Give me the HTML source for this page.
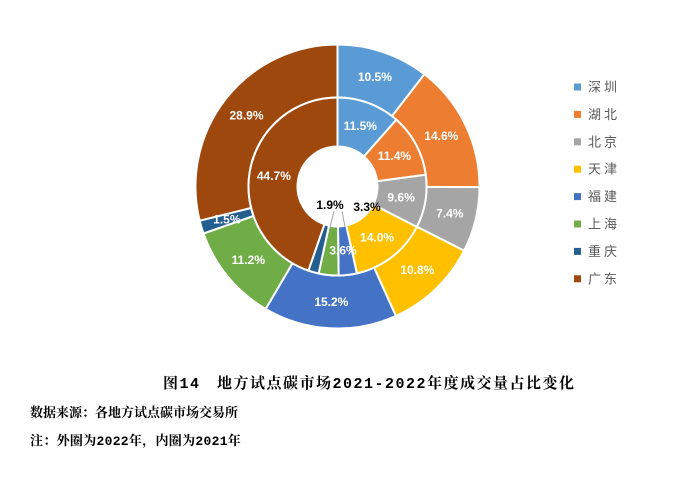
<!DOCTYPE html>
<html><head><meta charset="utf-8"><style>
body{margin:0;background:#fff;width:677px;height:478px;overflow:hidden;font-family:"Liberation Mono","Noto Serif CJK SC",serif}
.t{position:absolute;font-weight:bold;color:#000;white-space:nowrap}
</style></head><body>
<svg id="s" width="677" height="478" style="position:absolute;left:0;top:0" font-family="Liberation Sans, Noto Sans CJK SC, sans-serif"></svg>
<div class="t" style="left:163px;top:372px;font-size:15px;letter-spacing:1.5px">图14　地方试点碳市场2021-2022年度成交量占比变化</div>
<div class="t" style="left:30px;top:402px;font-size:13px;letter-spacing:0px">数据来源：各地方试点碳市场交易所</div>
<div class="t" style="left:30px;top:430px;font-size:13px;letter-spacing:0.3px">注：外圈为2022年，内圈为2021年</div>
<script>
const s=document.getElementById('s');
const cx=337.5,cy=186.5;
const cols=['#5B9BD5','#ED7D31','#A5A5A5','#FFC000','#4472C4','#70AD47','#255E91','#9E480E'];
const names=['深圳','湖北','北京','天津','福建','上海','重庆','广东'];
const outer=[10.5,14.6,7.4,10.8,15.2,11.2,1.5,28.9];
const inner=[11.5,11.4,9.6,14.0,3.3,3.6,1.9,44.7];
let h='';
function pt(r,a){return [cx+r*Math.sin(a),cy-r*Math.cos(a)];}
function ring(v,r0,r1,lbl){
 const tot=v.reduce((a,b)=>a+b,0);let a=0;
 v.forEach((x,i)=>{const a0=a/tot*2*Math.PI;a+=x;const a1=a/tot*2*Math.PI;
  const lg=(a1-a0)>Math.PI?1:0;
  const p1=pt(r1,a0),p2=pt(r1,a1),p3=pt(r0,a1),p4=pt(r0,a0);
  h+=`<path d="M${p1} A${r1},${r1} 0 ${lg} 1 ${p2} L${p3} A${r0},${r0} 0 ${lg} 0 ${p4}Z" fill="${cols[i]}" stroke="#fff" stroke-width="2"/>`;
 });
 a=0;
 v.forEach((x,i)=>{const a0=a/tot*2*Math.PI;a+=x;const a1=a/tot*2*Math.PI;
  if(lbl[i]!==null){const m=pt((r0+r1)/2,(a0+a1)/2);
   h+=`<text x="${m[0]+(lbl[i]||0)}" y="${m[1]+4}" text-anchor="middle" font-size="12" font-weight="bold" fill="#fff">${x.toFixed(1)}%</text>`;}
 });
}
ring(outer,89,142,[0,0,0,0,0,0,0,0]);
ring(inner,40,89,[0,0,0,0,null,12,null,0]);
h+=`<line x1="342" y1="211" x2="345" y2="227" stroke="#a6a6a6"/><line x1="334" y1="211" x2="330" y2="227" stroke="#a6a6a6"/>`;
h+=`<text x="330" y="209" text-anchor="middle" font-size="12" font-weight="bold" fill="#000">1.9%</text>`;
h+=`<text x="367" y="211" text-anchor="middle" font-size="12" font-weight="bold" fill="#000">3.3%</text>`;
names.forEach((n,i)=>{const y=87+i*27.4;
 h+=`<rect x="574" y="${y-3.5}" width="7" height="7" fill="${cols[i]}"/><text x="588" y="${y+4.5}" font-size="13" fill="#595959" letter-spacing="3">${n}</text>`;});
s.innerHTML=h;
</script>
</body></html>
